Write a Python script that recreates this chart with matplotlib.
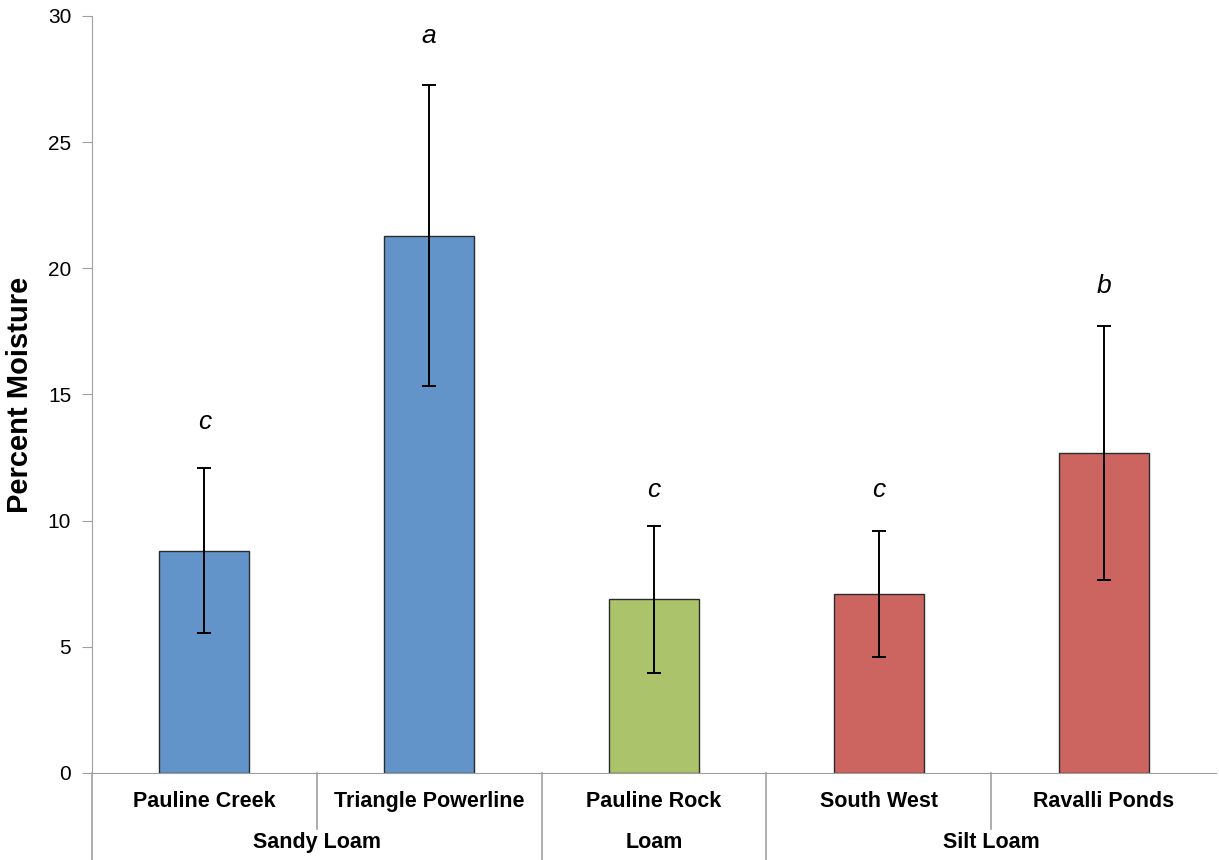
import numpy as np
import matplotlib.pyplot as plt
import matplotlib.transforms as mtransforms

# data
sites = ["Pauline Creek", "Triangle Powerline", "Pauline Rock", "South West", "Ravalli Ponds"]
soil_groups = ["Sandy Loam", "Loam", "Silt Loam"]
group_sizes = [2, 1, 2]
moisture = [8.8, 21.3, 6.88, 7.1, 12.67]
moisture_err = [3.27, 5.95, 2.92, 2.5, 5.04]
letters = ["c", "a", "c", "c", "b"]
letter_pos = [13.9, 29.2, 11.2, 11.2, 19.3]
bar_colors = ["#6394c9", "#6394c9", "#abc46c", "#cc6560", "#cc6560"]

plt.rcParams['font.family'] = ['Liberation Sans', 'DejaVu Sans']

fig = plt.figure(figsize=(12.19, 8.6), dpi=100)
ax = fig.add_axes([0.0755, 0.1012, 0.922, 0.8802])

x = np.arange(len(sites))
ax.bar(x, moisture, width=0.4, color=bar_colors, edgecolor="#2b2b2b", linewidth=1.0, zorder=2)
ax.errorbar(x, moisture, yerr=moisture_err, fmt="none", ecolor="black",
            elinewidth=1.4, capsize=5, capthick=1.4, zorder=3)

for xi, lab, yp in zip(x, letters, letter_pos):
    ax.text(xi, yp, lab, ha="center", va="center", fontsize=19, style="italic")

ax.set_xlim(-0.5, len(sites) - 0.5)
ax.set_ylim(0, 30)
ax.set_yticks([0, 5, 10, 15, 20, 25, 30])
ax.set_xticks([])
ax.tick_params(axis="y", labelsize=15, length=7, color="#a0a0a0", pad=8)
for s in ["top", "right"]:
    ax.spines[s].set_visible(False)
ax.spines["left"].set_color("#a0a0a0")
ax.spines["bottom"].set_color("#a0a0a0")
ax.set_ylabel("Percent Moisture", fontsize=21, fontweight="bold", labelpad=10)

# two-level category axis
trans = mtransforms.blended_transform_factory(ax.transData, ax.transAxes)
for xi, name in zip(x, sites):
    ax.text(xi, -0.038, name, transform=trans, ha="center", va="center",
            fontsize=15.5, fontweight="bold")

bounds = np.cumsum([0] + group_sizes) - 0.5
for i, g in enumerate(soil_groups):
    mid = (bounds[i] + bounds[i + 1]) / 2
    ax.text(mid, -0.092, g, transform=trans, ha="center", va="center",
            fontsize=15.5, fontweight="bold")

# separators: long at group edges, short between sites of one group
for b in bounds[:-1]:
    ax.plot([b, b], [0, -0.12], transform=trans, color="#a0a0a0", lw=1.2, clip_on=False)
for xi in x[:-1]:
    edge = xi + 0.5
    if edge not in bounds:
        ax.plot([edge, edge], [0, -0.074], transform=trans, color="#a0a0a0", lw=1.2, clip_on=False)

fig.savefig("out.png", dpi=100)
